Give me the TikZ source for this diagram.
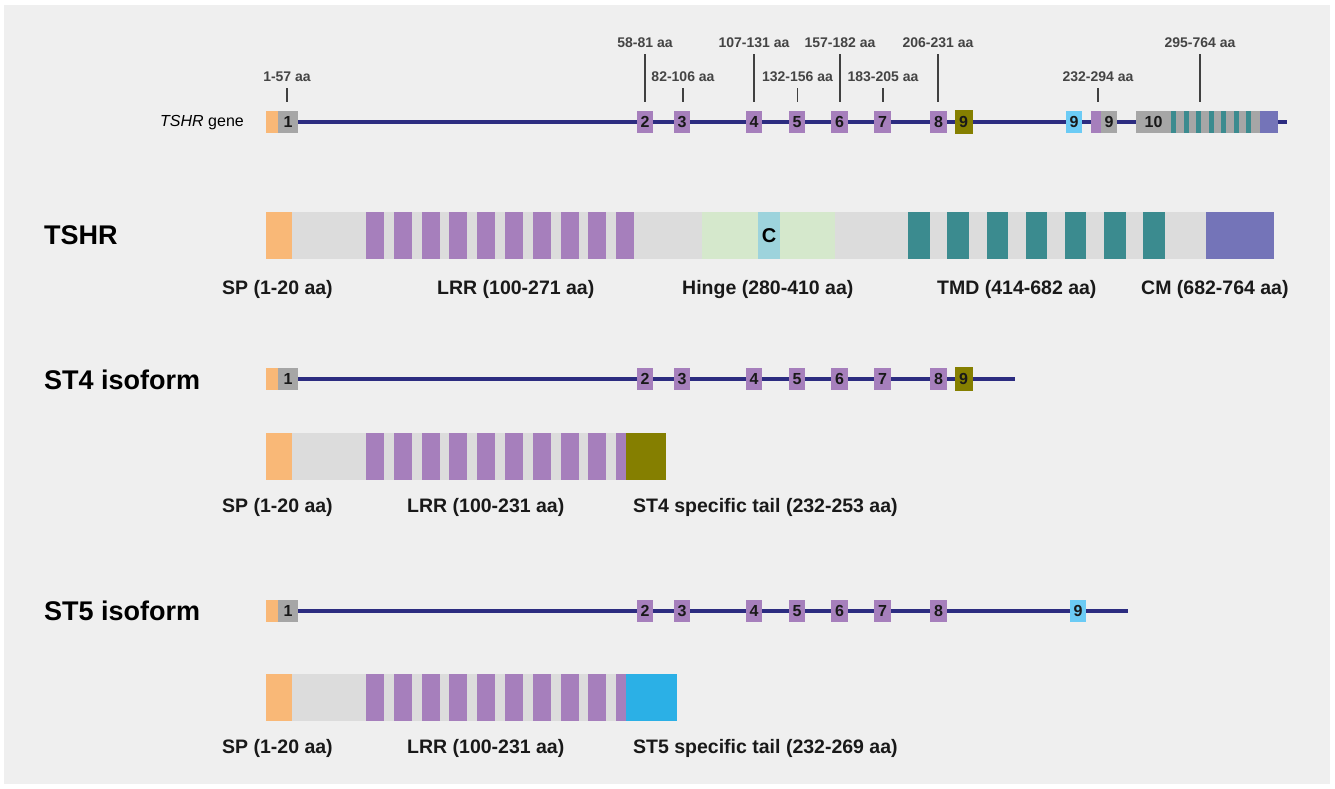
\documentclass[tikz,border=0pt]{standalone}
\usepackage{fontspec}
\setmainfont{Liberation Sans}
\definecolor{panel}{HTML}{EFEFEF}
\definecolor{orng}{HTML}{F9B877}
\definecolor{exg}{HTML}{A6A6A6}
\definecolor{navy}{HTML}{2C2C80}
\definecolor{lrr}{HTML}{A67FBC}
\definecolor{barc}{HTML}{DCDCDC}
\definecolor{hinge}{HTML}{D5E8CC}
\definecolor{cys}{HTML}{9DD3DC}
\definecolor{tmd}{HTML}{3B8B8F}
\definecolor{cmc}{HTML}{7474B8}
\definecolor{olv}{HTML}{857F00}
\definecolor{lblue}{HTML}{6BCBF5}
\definecolor{stfive}{HTML}{2BB0E6}
\definecolor{tickc}{HTML}{404040}
\definecolor{labc}{HTML}{444444}
\pgfdeclarelayer{bg}
\pgfdeclarelayer{ln}
\pgfsetlayers{bg,ln,main}
\begin{document}
\begin{tikzpicture}[x=1pt,y=-1pt,
 exon/.style={rectangle,inner sep=0pt,minimum height=22pt,minimum width=16.5pt,font=\fontsize{16}{16}\selectfont\bfseries,text=black!90},
 aalab/.style={inner sep=0pt,font=\fontsize{14}{14}\selectfont\bfseries,text=labc},
 tickln/.style={draw=tickc,line width=1.3pt},
 gene/.style={draw=navy,line width=4.5pt},
 dom/.style={inner sep=0pt,anchor=west,font=\fontsize{19.5}{20}\selectfont\bfseries,text=black!90},
 head/.style={inner sep=0pt,anchor=west,font=\fontsize{27}{27}\selectfont\bfseries}]
\useasboundingbox (0,0) rectangle (1335,789);
\begin{pgfonlayer}{bg}
\fill[white] (0,0) rectangle (1335,789);
\fill[panel] (4,5) rectangle (1330,784);
\end{pgfonlayer}

% ---------------- headings ----------------
\node[head] (hT) at (44,235) {TSHR};
\node[head] (h4) at (44,380) {ST4 isoform};
\node[head] (h5) at (44,611) {ST5 isoform};
\node[inner sep=0pt,anchor=east,font=\fontsize{16}{16}\selectfont] (glab) at (244,123) {\textit{TSHR} gene};

% ---------------- TSHR gene ----------------
\node[exon,fill=orng,minimum width=12pt] (a0) at (272,122) {};
\node[exon,fill=exg,minimum width=20pt] (a1) at (288,122) {1};
\foreach \n/\x in {2/645,3/682,4/754,5/797,6/839.5,7/882.5,8/938.5}
  \node[exon,fill=lrr] (a\n) at (\x,122) {\n};
\node[exon,fill=olv,minimum width=18pt,minimum height=24pt] (a9o) at (963.5,122) {9};
\node[exon,fill=lblue] (a9b) at (1074,122) {9};
\node[exon,fill=lrr,minimum width=10.5pt] (a9p) at (1095.75,122) {};
\node[exon,fill=exg,minimum width=16pt] (a9g) at (1109,122) {9};
\node[exon,fill=exg,minimum width=35pt] (a10) at (1153.5,122) {10};
\fill[exg] (1171,111) rectangle (1260,133);
\foreach \i in {0,...,6} \fill[tmd] ({1171+12.5*\i},111) rectangle ++(5,22);
\fill[cmc] (1260,111) rectangle (1278,133);
\coordinate (aend) at (1287,122);
\begin{pgfonlayer}{ln}
\draw[gene] (a1.east) -- (aend);
\end{pgfonlayer}

% labels with ticks
\node[aalab] (L1) at (287,77) {1-57 aa};
\node[aalab] (L2) at (645,43) {58-81 aa};
\node[aalab] (L3) at (683,77) {82-106 aa};
\node[aalab] (L4) at (754,43) {107-131 aa};
\node[aalab] (L5) at (797.5,77) {132-156 aa};
\node[aalab] (L6) at (840,43) {157-182 aa};
\node[aalab] (L7) at (883,77) {183-205 aa};
\node[aalab] (L8) at (938,43) {206-231 aa};
\node[aalab] (L9) at (1098,77) {232-294 aa};
\node[aalab] (L10) at (1200,43) {295-764 aa};
\draw[tickln] ([yshift=-6pt]L1.south) -- ([yshift=9pt]a1.north -| L1.south);
\draw[tickln] ([yshift=-6pt]L2.south) -- ([yshift=9pt]a2.north -| L2.south);
\draw[tickln] ([yshift=-6pt]L3.south) -- ([yshift=9pt]a3.north -| L3.south);
\draw[tickln] ([yshift=-6pt]L4.south) -- ([yshift=9pt]a4.north -| L4.south);
\draw[tickln] ([yshift=-6pt]L5.south) -- ([yshift=9pt]a5.north -| L5.south);
\draw[tickln] ([yshift=-6pt]L6.south) -- ([yshift=9pt]a6.north -| L6.south);
\draw[tickln] ([yshift=-6pt]L7.south) -- ([yshift=9pt]a7.north -| L7.south);
\draw[tickln] ([yshift=-6pt]L8.south) -- ([yshift=9pt]a8.north -| L8.south);
\draw[tickln] ([yshift=-6pt]L9.south) -- ([yshift=9pt]a9g.north -| L9.south);
\draw[tickln] ([yshift=-6pt]L10.south) -- ([yshift=9pt]a10.north -| L10.south);

% ---------------- TSHR protein ----------------
\fill[barc] (292,212) rectangle (1206,259);
\fill[orng] (266,212) rectangle (292,259);
\foreach \i in {0,...,9} \fill[lrr] ({366+27.8*\i},212) rectangle ++(18,47);
\fill[hinge] (702,212) rectangle (835,259);
\node[inner sep=0pt,fill=cys,minimum width=22pt,minimum height=47pt,font=\fontsize{20}{20}\selectfont\bfseries] (cysn) at (769,235.5) {C};
\foreach \i in {0,...,6} \fill[tmd] ({908.3+39.15*\i},212) rectangle ++(21.5,47);
\fill[cmc] (1206,212) rectangle (1274,259);
\node[dom] (d1) at (222,289) {SP (1-20 aa)};
\node[dom] (d2) at (437,289) {LRR (100-271 aa)};
\node[dom] (d3) at (682,289) {Hinge (280-410 aa)};
\node[dom] (d4) at (937,289) {TMD (414-682 aa)};
\node[dom] (d5) at (1141,289) {CM (682-764 aa)};

% ---------------- ST4 gene ----------------
\node[exon,fill=orng,minimum width=12pt] (b0) at (272,379) {};
\node[exon,fill=exg,minimum width=20pt] (b1) at (288,379) {1};
\foreach \n/\x in {2/645,3/682,4/754,5/797,6/839.5,7/882.5,8/938.5}
  \node[exon,fill=lrr] (b\n) at (\x,379) {\n};
\node[exon,fill=olv,minimum width=18pt,minimum height=24pt] (b9) at (963.5,379) {9};
\coordinate (bend) at (1015,379);
\begin{pgfonlayer}{ln}
\draw[gene] (b1.east) -- (bend);
\end{pgfonlayer}

% ---------------- ST4 protein ----------------
\fill[barc] (292,433) rectangle (626,480);
\fill[orng] (266,433) rectangle (292,480);
\foreach \i in {0,...,8} \fill[lrr] ({366+27.8*\i},433) rectangle ++(18,47);
\fill[lrr] (616.3,433) rectangle (626,480);
\fill[olv] (626,433) rectangle (666,480);
\node[dom] (e1) at (222,507) {SP (1-20 aa)};
\node[dom] (e2) at (407,507) {LRR (100-231 aa)};
\node[dom] (e3) at (633,507) {ST4 specific tail (232-253 aa)};

% ---------------- ST5 gene ----------------
\node[exon,fill=orng,minimum width=12pt] (c0) at (272,611) {};
\node[exon,fill=exg,minimum width=20pt] (c1) at (288,611) {1};
\foreach \n/\x in {2/645,3/682,4/754,5/797,6/839.5,7/882.5,8/938.5}
  \node[exon,fill=lrr] (c\n) at (\x,611) {\n};
\node[exon,fill=lblue] (c9) at (1078,611) {9};
\coordinate (cend) at (1128,611);
\begin{pgfonlayer}{ln}
\draw[gene] (c1.east) -- (cend);
\end{pgfonlayer}

% ---------------- ST5 protein ----------------
\fill[barc] (292,674) rectangle (626,721);
\fill[orng] (266,674) rectangle (292,721);
\foreach \i in {0,...,8} \fill[lrr] ({366+27.8*\i},674) rectangle ++(18,47);
\fill[lrr] (616.3,674) rectangle (626,721);
\fill[stfive] (626,674) rectangle (677,721);
\node[dom] (f1) at (222,748) {SP (1-20 aa)};
\node[dom] (f2) at (407,748) {LRR (100-231 aa)};
\node[dom] (f3) at (633,748) {ST5 specific tail (232-269 aa)};
\end{tikzpicture}
\end{document}
